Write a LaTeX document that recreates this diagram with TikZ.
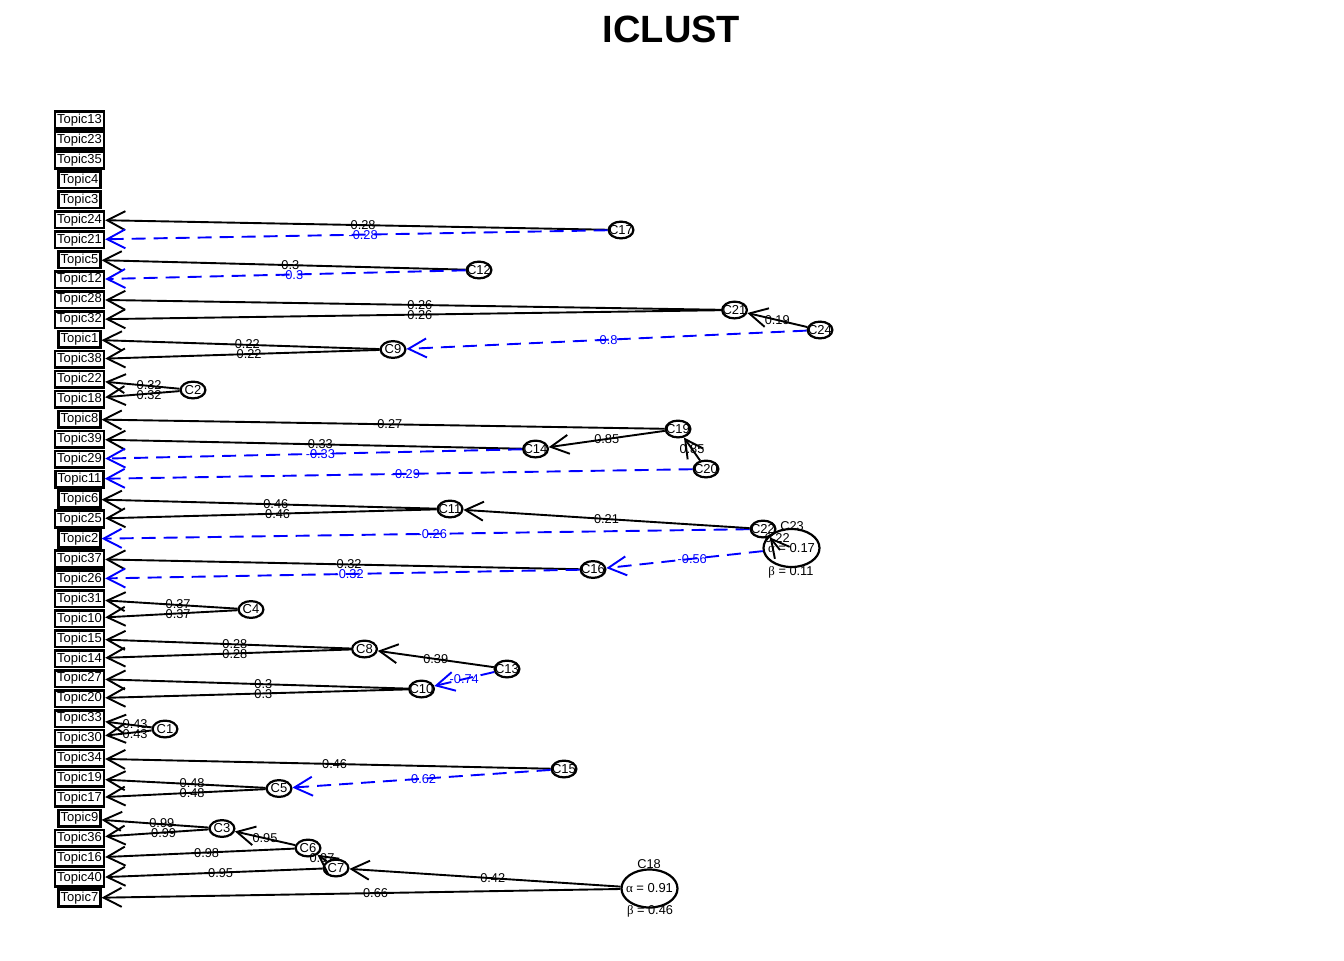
\documentclass[tikz,border=0pt]{standalone}
\usepackage{fontspec}
\setmainfont{Liberation Sans}
\newfontfamily\grk{Liberation Serif}
\usetikzlibrary{shapes.geometric,arrows.meta}
\newcommand\tedge[4][]{%
  \draw[edge,#1] (#2) -- (#3);
  \path (#3.east) -- node[lbl,#1]{#4} (#2.center);}
\newcommand\cedge[4][]{%
  \draw[edge,#1] (#2) -- (#3);
  \path (#2.center) -- node[lbl,#1]{#4} (#3.center);}
\newcommand\clu[2]{\node[cl] (#1) at (#2) {\makebox[0pt]{#1}};}
\begin{document}
\begin{tikzpicture}[x=0.5pt,y=-0.5pt,
  tbox/.style={draw, line width=1.3pt, inner xsep=1.0pt, inner ysep=0pt,
    minimum height=8.3pt, font=\fontsize{6.5}{7}\selectfont},
  cl/.style={ellipse, draw, line width=1.1pt, inner sep=0pt, fill=white,
    minimum width=12.4pt, minimum height=8.4pt, font=\fontsize{6.5}{7}\selectfont},
  big/.style={ellipse, draw, line width=1.1pt, inner sep=0pt,
    minimum width=28pt, minimum height=19pt, font=\fontsize{6.5}{7}\selectfont},
  lbl/.style={inner sep=0pt, font=\fontsize{6.4}{7}\selectfont},
  edge/.style={draw, line width=0.95pt,
    -{Straight Barb[length=9pt,width=9.5pt]}},
  neg/.style={blue, dash pattern=on 7pt off 4pt},
]
\fill[white] (0,0) rectangle (1344,960);
\useasboundingbox (0,0) rectangle (1344,960);

\node[font=\fontsize{19}{22}\selectfont\bfseries] (title) at (671.5,29) {ICLUST};

\foreach \n [count=\i from 0] in {13,23,35,4,3,24,21,5,12,28,32,1,38,22,18,8,39,29,11,6,25,2,37,26,31,10,15,14,27,20,33,30,34,19,17,9,36,16,40,7}
  \node[tbox] (T\n) at (79.5,{120+19.95*\i}) {Topic\n};

\clu{C17}{621,230}
\clu{C12}{479,270}
\clu{C21}{734.5,310}
\clu{C24}{820,330}
\clu{C9}{393,349.5}
\clu{C2}{193,390}
\clu{C19}{678,429}
\clu{C14}{535.5,449}
\clu{C20}{706,469}
\clu{C11}{450,509}
\clu{C22}{763,529}
\clu{C16}{593,569.5}
\clu{C4}{251,609.5}
\clu{C8}{364.5,649}
\clu{C13}{507,669}
\clu{C10}{421.5,689}
\clu{C1}{165,729}
\clu{C15}{564,769}
\clu{C5}{279,788.5}
\clu{C3}{222,828.5}
\clu{C6}{308,848}
\clu{C7}{336,868}

\node[big] (C23) at (791.5,548) {\makebox[0pt]{{\grk α} = 0.17}};
\node[lbl] (C23n) at (792,526) {C23};
\node[lbl] (C23b) at (791,572) {{\grk β} = 0.11};
\node[big] (C18) at (649.5,888.5) {\makebox[0pt]{{\grk α} = 0.91}};
\node[lbl] (C18n) at (649,864.5) {C18};
\node[lbl] (C18b) at (650,911) {{\grk β} = 0.46};
\coordinate (c23s) at (780,550);

% cluster to item edges
\tedge{C17}{T24}{0.28}
\tedge[neg]{C17}{T21}{-0.28}
\tedge{C12}{T5}{0.3}
\tedge[neg]{C12}{T12}{-0.3}
\tedge{C21}{T28}{0.26}
\tedge{C21}{T32}{0.26}
\tedge{C9}{T1}{0.22}
\tedge{C9}{T38}{0.22}
\tedge{C2}{T22}{0.32}
\tedge{C2}{T18}{0.32}
\tedge{C19}{T8}{0.27}
\tedge{C14}{T39}{0.33}
\tedge[neg]{C14}{T29}{-0.33}
\tedge[neg]{C20}{T11}{-0.29}
\tedge{C11}{T6}{0.46}
\tedge{C11}{T25}{0.46}
\tedge[neg]{C22}{T2}{-0.26}
\tedge{C16}{T37}{0.32}
\tedge[neg]{C16}{T26}{-0.32}
\tedge{C4}{T31}{0.37}
\tedge{C4}{T10}{0.37}
\tedge{C8}{T15}{0.28}
\tedge{C8}{T14}{0.28}
\tedge{C10}{T27}{0.3}
\tedge{C10}{T20}{0.3}
\tedge{C1}{T33}{0.43}
\tedge{C1}{T30}{0.43}
\tedge{C15}{T34}{0.46}
\tedge{C5}{T19}{0.48}
\tedge{C5}{T17}{0.48}
\tedge{C3}{T9}{0.99}
\tedge{C3}{T36}{0.99}
\tedge{C6}{T16}{0.98}
\tedge{C7}{T40}{0.95}
\tedge{C18}{T7}{0.66}

% cluster to cluster edges
\cedge{C24}{C21}{0.19}
\cedge[neg]{C24}{C9}{-0.8}
\cedge{C19}{C14}{0.85}
\cedge{C20}{C19}{0.85}
\cedge{C22}{C11}{0.21}
\draw[edge] (c23s) -- (C22);
\path (C23.center) -- node[lbl]{0.22} (C22.center);
\cedge[neg]{C23}{C16}{-0.56}
\cedge{C13}{C8}{0.39}
\cedge[neg]{C13}{C10}{-0.74}
\cedge[neg]{C15}{C5}{-0.62}
\cedge{C6}{C3}{0.95}
\cedge{C7}{C6}{0.97}
\cedge{C18}{C7}{0.42}
\end{tikzpicture}
\end{document}
